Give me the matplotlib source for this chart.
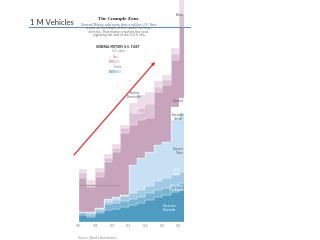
import numpy as np
import matplotlib
matplotlib.use("Agg")
import matplotlib.pyplot as plt

# GM U.S. fleet sales, thousands of vehicles
years = list(range(1996, 2009))
tick_labels = ["'96", "'98", "'00", "'02", "'04", "'06", "'08"]

trucks_dark = [32, 23, 41, 54, 59, 68, 77, 86, 99, 113, 122, 135, 144]
trucks_mid = [9, 9, 9, 27, 27, 27, 27, 27, 32, 32, 32, 32, 32]
trucks_midlight = [5, 9, 9, 9, 14, 23, 27, 32, 32, 41, 45, 45, 50]
trucks_light = [0, 5, 5, 14, 14, 5, 126, 144, 153, 162, 162, 248, 266]
other = [0, 0, 0, 0, 0, 0, 0, 0, 0, 0, 0, 59, 68]
cars_main = [153, 113, 140, 167, 203, 279, 180, 171, 153, 239, 257, 212, 320]
cars_mid = [23, 14, 23, 18, 18, 23, 59, 54, 63, 23, 23, 27, 59]
cars_pale = [18, 14, 18, 18, 18, 14, 41, 59, 54, 23, 23, 27, 63]

series = [trucks_dark, trucks_mid, trucks_midlight, trucks_light, other,
          cars_main, cars_mid, cars_pale]
colors = ['#4f9cc0', '#7cb4d4', '#a2cae5', '#c7e0f4', '#ffffff',
          '#c8a3bc', '#dcc2d4', '#ecdde8']

fig = plt.figure(figsize=(3.2, 2.4), dpi=100)

# the embedded chart
ax = fig.add_axes([0.246, 0.075, 0.326, 0.925])
x = np.arange(len(years) + 1)
ys = [s + [s[-1]] for s in series]
ax.stackplot(x, ys, colors=colors, step='post', edgecolor='white', linewidth=0.2)
ax.hlines(167, 0, 5, color='#9c8494', lw=0.4)
ax.set_xlim(0, 12.5)
ax.set_ylim(0, 1000)
ax.set_xticks(range(0, 13, 2))
ax.set_xticklabels(tick_labels, fontsize=2.5, color='#888888')
ax.tick_params(axis='x', length=0, pad=1.5)
ax.set_yticks([])
for sp in ax.spines.values():
    sp.set_visible(False)

# model labels inside the areas
lab = dict(fontsize=2.1, ha='center', va='center', linespacing=1.0)
ax.text(6.7, 574, "Pontiac\nBonneville", color='#555555', **lab)
ax.text(7.05, 500, "Buick\nLeSabre", color='white', **lab)
ax.text(12.1, 543, "Chevrolet", color='#555555', **lab)
ax.text(12.0, 473, "Chevrolet\nCobalt", color='#555555', **lab)
ax.text(12.15, 322, "Chevrolet\nTahoe", color='#555555', **lab)
ax.text(11.8, 225, "GMC\nSierra", color='white', **lab)
ax.text(11.7, 153, "Chevrolet\nTrailBlazer", color='white', **lab)
ax.text(10.9, 63, "Chevrolet\nSilverado", color='white', **lab)
ax.text(12.2, 932, "Pontiac", color='#555555', **lab)
for t in ax.texts:
    t.set_clip_on(True)

# slide overlay, pixel coordinates
ov = fig.add_axes([0, 0, 1, 1], facecolor='none')
ov.set_xlim(0, 320)
ov.set_ylim(240, 0)
ov.axis('off')

ov.text(30, 22.8, "1 M Vehicles", fontsize=5.5, family='Lato', color='#333333',
        ha='left', va='center')
ov.plot([29, 190], [27, 27], color='#5a8fd0', lw=0.8)

ov.text(118, 19, "The Crumple Zone", fontsize=3.6, family='Liberation Serif',
        weight='bold', color='#222222', ha='center', va='center')
sub = ["General Motors sold more than a million U.S. fleet",
       "a year at the height of the market for large",
       "vehicles. That market crashed this year,",
       "signaling the end of the S.U.V. era."]
for i, line in enumerate(sub):
    ov.text(119, 24.5 + 3.6 * i, line, fontsize=2.2, color='#666666',
            ha='center', va='center')
ov.text(118, 47.5, "GENERAL MOTORS U.S. FLEET", fontsize=1.9, weight='bold',
        color='#444444', ha='center', va='center')
ov.text(118, 51, "U.S. sales", fontsize=1.9, color='#777777', ha='center', va='center')
ov.text(116, 57, "Cars", fontsize=1.9, color='#777777', ha='center', va='center')
ov.text(117, 67.5, "Trucks", fontsize=1.9, color='#777777', ha='center', va='center')

grad = np.linspace(0, 1, 50).reshape(1, -1)
pink = matplotlib.colors.LinearSegmentedColormap.from_list('p', ['#d9b9d0', '#f3e8f0'])
blue = matplotlib.colors.LinearSegmentedColormap.from_list('b', ['#8fc0e4', '#e4f0fa'])
ov.imshow(grad, cmap=pink, extent=(109, 120, 63, 60), aspect='auto')
ov.imshow(grad, cmap=blue, extent=(109, 122, 73, 70), aspect='auto')
ov.set_xlim(0, 320)
ov.set_ylim(240, 0)

ov.text(78, 238, "Source: Ward's Automotive", fontsize=2.1, color='#888888',
        ha='left', va='center')

ov.annotate("", xy=(155, 62), xytext=(74, 155),
            arrowprops=dict(arrowstyle='-|>', color='#e8312f', lw=0.9,
                            mutation_scale=4, shrinkA=0, shrinkB=0))

fig.savefig("out.png", dpi=100)
